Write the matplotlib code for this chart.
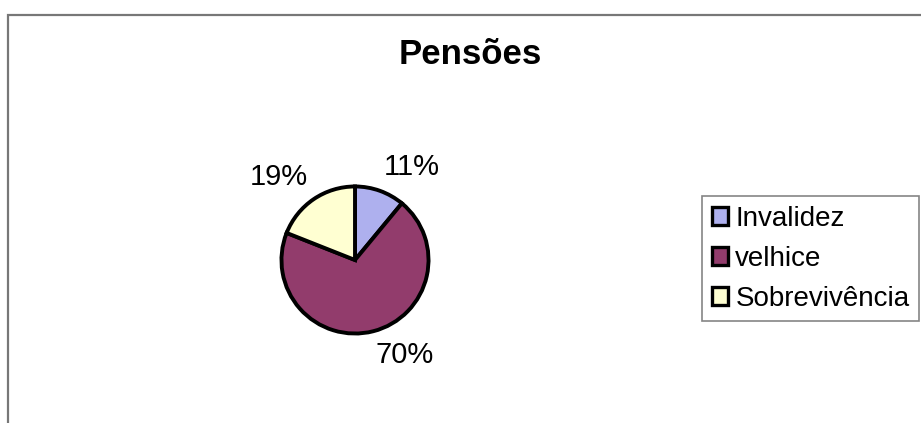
import matplotlib
matplotlib.use("Agg")
import numpy as np
import matplotlib.pyplot as plt
from matplotlib.patches import Patch, Rectangle

plt.rcParams['font.family'] = ['Liberation Sans', 'DejaVu Sans']

title = "Pensões"
categories = ["Invalidez", "velhice", "Sobrevivência"]
shares = [11, 70, 19]
colors = ["#AEB0EE", "#923C6C", "#FFFFD2"]

W, H = 921, 423
fig = plt.figure(figsize=(W / 100, H / 100), dpi=100)
fig.patch.set_facecolor("white")

# outer chart frame (top and left edges visible)
fig.add_artist(Rectangle((8 / W, -0.1), 1.2, 1 - 15 / H + 0.1,
                         transform=fig.transFigure, fill=False,
                         edgecolor="#777777", linewidth=1.6))

fig.text(470 / W, 1 - 54 / H, title, ha="center", va="center",
         fontsize=25, fontweight="bold")

# pie
cx, cy, r = 355, 260, 75
ax = fig.add_axes([(cx - r) / W, 1 - (cy + r) / H, 2 * r / W, 2 * r / H])
wedges, texts = ax.pie(shares, colors=colors, startangle=90, counterclock=False,
                       wedgeprops=dict(edgecolor="black", linewidth=2.8),
                       labels=[f"{v}%" for v in shares], labeldistance=1.14,
                       textprops=dict(fontsize=21))
ax.set_aspect("equal")
ax.set_xlim(-1.02, 1.02)
ax.set_ylim(-1.02, 1.02)
for w, t in zip(wedges, texts):
    ang = np.deg2rad((w.theta1 + w.theta2) / 2)
    t.set_ha("left" if np.cos(ang) > 0 else "right")
    t.set_va("bottom" if np.sin(ang) > 0 else "top")

# legend
handles = [Patch(facecolor=c, edgecolor="black", linewidth=2.4) for c in colors]
leg = fig.legend(handles, categories, loc="upper left",
                 bbox_to_anchor=(702 / W, 1 - 196 / H), fontsize=20,
                 frameon=True, fancybox=False, handlelength=0.6, handleheight=0.6,
                 handletextpad=0.25, labelspacing=0.5, borderpad=0.35,
                 borderaxespad=0)
leg.get_frame().set_edgecolor("#666666")
leg.get_frame().set_linewidth(1.2)

fig.savefig("out.png", dpi=100, facecolor="white")
